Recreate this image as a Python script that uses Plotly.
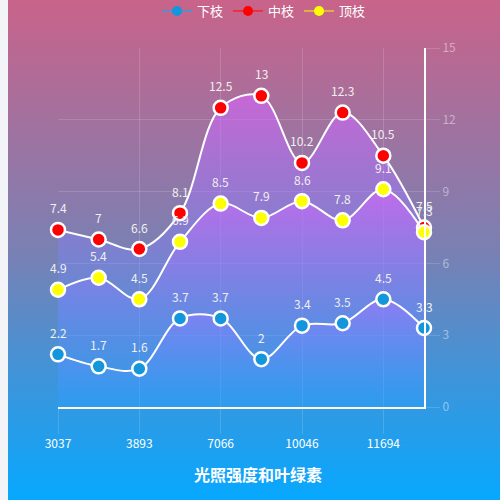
import base64
import plotly.graph_objects as go

# ---- data ----
tick_labels = ["3037", "3893", "7066", "10046", "11694"]   # labels shown under every 2nd point
series_names = ["下枝", "中枝", "顶枝"]
lower = [2.2, 1.7, 1.6, 3.7, 3.7, 2.0, 3.4, 3.5, 4.5, 3.3]
middle = [7.4, 7.0, 6.6, 8.1, 12.5, 13.0, 10.2, 12.3, 10.5, 7.5]
top = [4.9, 5.4, 4.5, 6.9, 8.5, 7.9, 8.6, 7.8, 9.1, 7.3]
y_ticks = [0, 3, 6, 9, 12, 15]

marker_colors = ["#1396db", "#ff0000", "#ffff00"]
legend_line_colors = ["#5b8ec4", "#e8323f", "#e0b43a"]
values = [lower, middle, top]
positions = list(range(len(lower)))

W, H = 500, 500
L, R, T, B = 58, 424, 48, 407  # plot area in px

fig = go.Figure()

fill_scale = [[0, "rgba(40,160,255,0.15)"], [1, "rgba(216,100,250,0.62)"]]

# area fills first (under every line)
for name, vals in zip(series_names, values):
    fig.add_trace(go.Scatter(
        x=positions, y=vals, name=name, mode="none",
        line=dict(shape="spline", smoothing=1),
        fill="tozeroy",
        fillgradient=dict(type="vertical", colorscale=fill_scale, start=0, stop=max(vals)),
        showlegend=False, hoverinfo="skip",
    ))

# lines and markers
for name, vals, mc in zip(series_names, values, marker_colors):
    fig.add_trace(go.Scatter(
        x=positions, y=vals, name=name, mode="lines+markers",
        line=dict(color="white", width=2, shape="spline", smoothing=1),
        marker=dict(size=14, color=mc, line=dict(color="white", width=2.5)),
        cliponaxis=False, showlegend=False, hoverinfo="skip",
    ))

# legend entries
for name, lc, mc in zip(series_names, legend_line_colors, marker_colors):
    fig.add_trace(go.Scatter(
        x=[None], y=[None], name=name, mode="lines+markers",
        line=dict(color=lc, width=2), marker=dict(size=10, color=mc),
    ))

annotations = []
for vals in values:
    for xi, v in zip(positions, vals):
        annotations.append(dict(
            x=xi, y=v, xref="x", yref="y", text=f"{v:g}", showarrow=False,
            yshift=22, font=dict(size=12, color="#f0f0f0", family="Noto Sans CJK SC"),
        ))
annotations.append(dict(
    x=258 / W, y=1 - 474 / H, xref="paper", yref="paper", xanchor="center", yanchor="middle",
    text="<b>光照强度和叶绿素</b>",
    showarrow=False, font=dict(size=16, color="white", family="Noto Sans CJK SC"),
))

svg = (
    '<svg xmlns="http://www.w3.org/2000/svg" width="492" height="500" preserveAspectRatio="none">'
    '<defs><linearGradient id="g" x1="0" y1="0" x2="0" y2="1">'
    '<stop offset="0" stop-color="#c9638a"/><stop offset="0.5" stop-color="#7a80b3"/>'
    '<stop offset="1" stop-color="#06a8ff"/></linearGradient></defs>'
    '<rect width="492" height="500" fill="url(#g)"/></svg>'
)
src = "data:image/svg+xml;base64," + base64.b64encode(svg.encode()).decode()

fig.update_layout(
    width=W, height=H,
    margin=dict(l=0, r=0, t=0, b=0, autoexpand=False),
    paper_bgcolor="#f3f4f8", plot_bgcolor="rgba(0,0,0,0)",
    font=dict(family="Noto Sans CJK SC", color="white"),
    images=[dict(source=src, xref="paper", yref="paper", x=8 / W, y=1, sizex=492 / W, sizey=1,
                 xanchor="left", yanchor="top", sizing="stretch", layer="below")],
    xaxis=dict(
        domain=[L / W, R / W], range=[0, len(lower) - 1], automargin=False,
        tickvals=positions[::2], ticktext=tick_labels,
        showgrid=True, gridcolor="rgba(255,255,255,0.15)", gridwidth=1,
        ticks="outside", ticklen=25, tickcolor="rgba(255,255,255,0.15)",
        showline=True, linecolor="white", linewidth=2,
        tickfont=dict(size=12, color="white"), zeroline=False, fixedrange=True,
    ),
    yaxis=dict(
        domain=[1 - B / H, 1 - T / H], range=[0, 15], side="right", automargin=False,
        tickvals=y_ticks,
        showgrid=True, gridcolor="rgba(255,255,255,0.15)", gridwidth=1,
        ticks="outside", ticklen=14, tickcolor="rgba(255,255,255,0.15)",
        showline=True, linecolor="white", linewidth=2,
        tickfont=dict(size=12, color="rgba(255,255,255,0.45)"), zeroline=False, fixedrange=True,
    ),
    legend=dict(orientation="h", x=0.528, xanchor="center", y=1 + 4 / H, yanchor="top",
                font=dict(size=13, color="white"), bgcolor="rgba(0,0,0,0)"),
    annotations=annotations,
)

fig.write_html(
    "out.html",
    config={"displayModeBar": False},
    post_script="document.body.style.margin='0';document.body.style.background='#f3f4f8';",
)
